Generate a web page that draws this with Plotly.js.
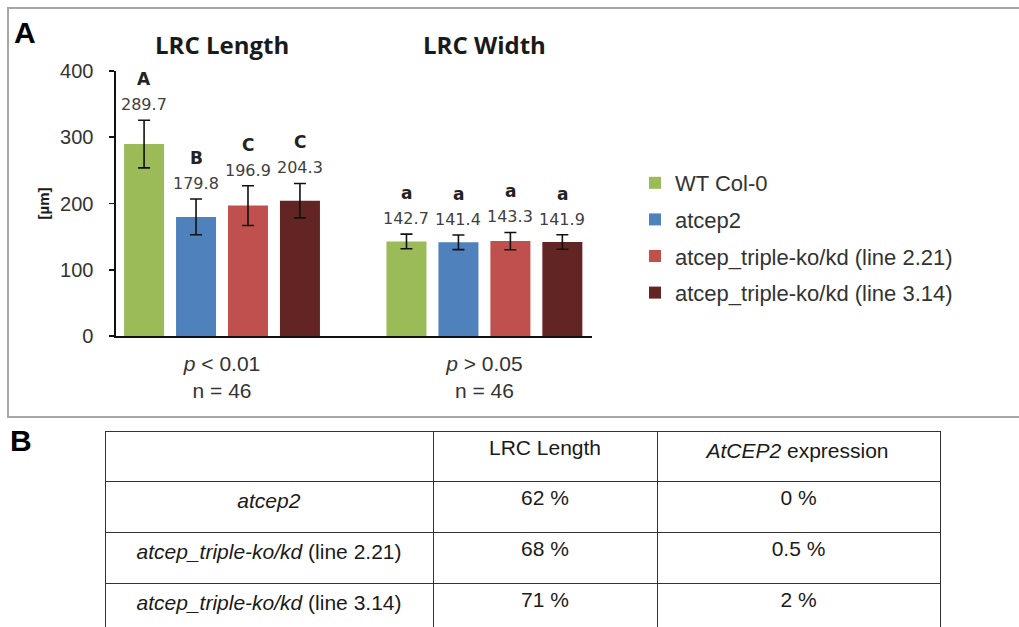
<!DOCTYPE html>
<html>
<head>
<meta charset="utf-8">
<script src="https://cdn.plot.ly/plotly-3.0.1.min.js"></script>
<style>
html,body{margin:0;padding:0;background:#fff;overflow:hidden;}
#chart{width:1019px;height:627px;}
.scrollbar-kit{display:none;}
</style>
</head>
<body>
<div id="chart"></div>
<script>
// ---- data ----
const groups = [0, 1];
const groupTitles = ['LRC Length', 'LRC Width'];
const pLabels = ['<i>p</i> &lt; 0.01', '<i>p</i> &gt; 0.05'];
const nLabels = ['n = 46', 'n = 46'];
const seriesNames = ['WT Col-0', 'atcep2', 'atcep_triple-ko/kd (line 2.21)', 'atcep_triple-ko/kd (line 3.14)'];
const wtCol0 = [289.7, 142.7];
const atcep2 = [179.8, 141.4];
const line221 = [196.9, 143.3];
const line314 = [204.3, 141.9];
const wtCol0Err = [36, 11];
const atcep2Err = [27, 11];
const line221Err = [30, 13];
const line314Err = [26, 11];
const wtCol0Letters = ['A', 'a'];
const atcep2Letters = ['B', 'a'];
const line221Letters = ['C', 'a'];
const line314Letters = ['C', 'a'];
const tableHeader = ['', 'LRC Length', '<i>AtCEP2</i> expression'];
const tableLines = ['<i>atcep2</i>', '<i>atcep_triple-ko/kd</i> (line 2.21)', '<i>atcep_triple-ko/kd</i> (line 3.14)'];
const lrcLengthPct = ['62 %', '68 %', '71 %'];
const expressionPct = ['0 %', '0.5 %', '2 %'];

// ---- styles ----
const colors = ['#9BBB59', '#4F81BD', '#C0504D', '#632523'];
const W = 1019, H = 627;
const bargap = 0.208, bargroupgap = 0.23;
const values = [wtCol0, atcep2, line221, line314];
const errs = [wtCol0Err, atcep2Err, line221Err, line314Err];
const letters = [wtCol0Letters, atcep2Letters, line221Letters, line314Letters];

const traces = values.map((v, i) => ({
  type: 'bar', x: groups, y: v, name: seriesNames[i], legendgroup: 'g' + i,
  marker: {color: colors[i]},
  error_y: {type: 'data', array: errs[i], visible: true, color: '#111', thickness: 1.6, width: 6},
  hoverinfo: 'skip'
}));

traces.push({
  type: 'table',
  domain: {x: [105 / W, 940 / W], y: [0, 1 - 431 / H]},
  columnwidth: [328, 224, 283],
  header: {values: tableHeader, align: 'center', height: 50,
    line: {color: '#333', width: 1}, fill: {color: '#fff'},
    font: {family: 'Liberation Sans, Arial', size: 21, color: '#1a1a1a'}},
  cells: {values: [tableLines, lrcLengthPct, expressionPct], align: 'center', height: 51,
    line: {color: '#333', width: 1}, fill: {color: '#fff'},
    font: {family: 'Liberation Sans, Arial', size: 21, color: '#1a1a1a'}}
});

const slot = (1 - bargap) / values.length;
const annotations = [];
values.forEach((v, i) => {
  groups.forEach((g, k) => {
    const xPos = g + (i - (values.length - 1) / 2) * slot;
    const top = v[k] + errs[i][k];
    annotations.push({xref: 'x', yref: 'y', x: xPos, y: top, xanchor: 'center', yanchor: 'bottom', yshift: 4,
      text: v[k].toFixed(1), showarrow: false,
      font: {family: 'DejaVu Sans', size: 16, color: '#404040'}});
    annotations.push({xref: 'x', yref: 'y', x: xPos, y: top, xanchor: 'center', yanchor: 'bottom', yshift: 29,
      text: '<b>' + letters[i][k] + '</b>', showarrow: false,
      font: {family: 'DejaVu Sans', size: 17, color: '#222'}});
  });
});
groups.forEach((g, k) => {
  annotations.push({xref: 'x', yref: 'paper', x: g, y: 1 - 44 / H, xanchor: 'center', yanchor: 'middle',
    text: '<b>' + groupTitles[k] + '</b>', showarrow: false,
    font: {family: 'Open Sans', size: 24, color: '#1a1a1a'}});
});
annotations.push({xref: 'paper', yref: 'y domain', x: 43 / W, y: 0.5, xanchor: 'center', yanchor: 'middle', textangle: -90,
  text: '<b>[µm]</b>', showarrow: false, font: {family: 'Liberation Sans, Arial', size: 15, color: '#1a1a1a'}});
annotations.push({xref: 'paper', yref: 'paper', x: 25 / W, y: 1 - 33 / H, xanchor: 'center', yanchor: 'middle',
  text: '<b>A</b>', showarrow: false, font: {family: 'Liberation Sans, Arial', size: 30, color: '#000'}});
annotations.push({xref: 'paper', yref: 'paper', x: 21 / W, y: 1 - 440 / H, xanchor: 'center', yanchor: 'middle',
  text: '<b>B</b>', showarrow: false, font: {family: 'Liberation Sans, Arial', size: 30, color: '#000'}});

const layout = {
  width: W, height: H,
  margin: {l: 0, r: 0, t: 0, b: 0},
  paper_bgcolor: '#fff', plot_bgcolor: 'rgba(0,0,0,0)',
  barmode: 'group', bargap: bargap, bargroupgap: bargroupgap,
  showlegend: true,
  legend: {x: 635 / W, y: 1 - 162 / H, xanchor: 'left', yanchor: 'top',
    traceorder: 'grouped', tracegroupgap: 5,
    font: {family: 'Liberation Sans, Arial', size: 22, color: '#333'}},
  xaxis: {domain: [116 / W, 592 / W], range: [-0.404, 1.41],
    tickvals: groups, ticktext: groups.map(k => pLabels[k] + '<br>' + nLabels[k]),
    showline: true, linecolor: '#111', linewidth: 1.6, ticks: '', showgrid: false, zeroline: false,
    ticklabelstandoff: 8,
    tickfont: {family: 'Liberation Sans, Arial', size: 21, color: '#333'}},
  yaxis: {domain: [1 - 336 / H, 1 - 71 / H], range: [0, 400], tickvals: [0, 100, 200, 300, 400],
    showline: true, linecolor: '#111', linewidth: 1.6, ticks: 'outside', ticklen: 5, tickcolor: '#111', tickwidth: 1.6,
    showgrid: false, zeroline: false, ticklabelstandoff: 12,
    tickfont: {family: 'Liberation Sans, Arial', size: 20, color: '#333'}},
  shapes: [{type: 'rect', xref: 'paper', yref: 'paper', x0: 8 / W, x1: 1.02, y0: 1 - 417 / H, y1: 1 - 8 / H,
    line: {color: '#a6a6a6', width: 2}, fillcolor: 'rgba(0,0,0,0)', layer: 'below'}],
  annotations: annotations
};

Plotly.newPlot('chart', traces, layout, {displayModeBar: false, staticPlot: true});
</script>
</body>
</html>
